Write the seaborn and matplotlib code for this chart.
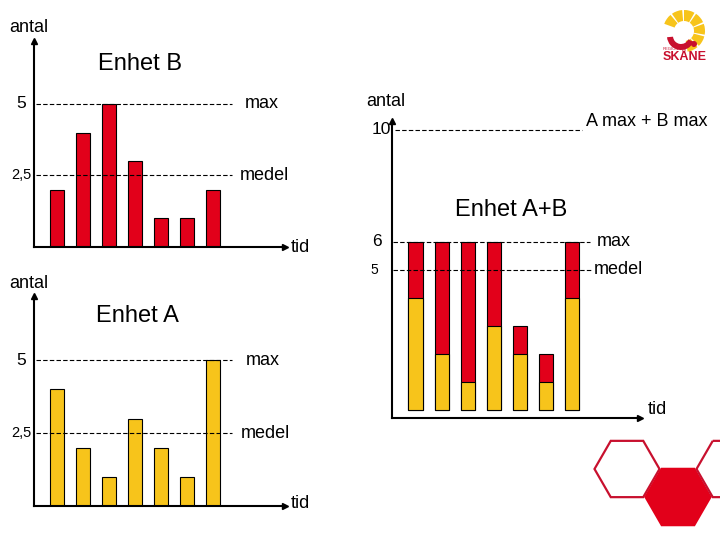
import numpy as np
import pandas as pd
import matplotlib
matplotlib.use('Agg')
import matplotlib.pyplot as plt
from matplotlib.patches import RegularPolygon, Wedge, Circle
import seaborn as sns

# data
tider = ['1', '2', '3', '4', '5', '6', '7']
enhet_a = [4, 2, 1, 3, 2, 1, 5]
enhet_b = [2, 4, 5, 3, 1, 1, 2]
# the combined chart on the slide shows 4 for the last A bar
summa_a = [4, 2, 1, 3, 2, 1, 4]
summa_b = [2, 4, 5, 3, 1, 1, 2]

max_enhet = 5
medel_enhet = 2.5
max_summa = 6
medel_summa = 5
max_plus = 10

RED = '#e2001a'
YELLOW = '#f7c41b'
DARKRED = '#c8102e'
W, H = 720, 540

sns.set_style('white')
plt.rcParams['font.family'] = ['Liberation Sans', 'DejaVu Sans']
plt.rcParams['text.color'] = 'black'


def px_rect(x0, y0, x1, y1):
    return [x0 / W, 1 - y1 / H, (x1 - x0) / W, (y1 - y0) / H]


def ftext(x, y, s, size=13, **kw):
    fig.text(x / W, 1 - y / H, s, fontsize=size, va='center', **kw)


def setup(ax, xlim, ylim):
    ax.set_xlim(xlim)
    ax.set_ylim(ylim)
    ax.set_xticks([])
    ax.set_yticks([])
    ax.set_xlabel('')
    ax.set_ylabel('')
    ax.patch.set_alpha(0)
    for s in ['top', 'right']:
        ax.spines[s].set_visible(False)
    for s in ['left', 'bottom']:
        ax.spines[s].set_color('black')
        ax.spines[s].set_linewidth(1.5)
    ax.plot(1, 0, '>k', transform=ax.transAxes, clip_on=False, markersize=5)
    ax.plot(0, 1, '^k', transform=ax.transAxes, clip_on=False, markersize=5)


def ref_line(ax, y, xmax, label, lx):
    ax.axhline(y, xmin=0.006, xmax=xmax, color='black', lw=0.8, ls=(0, (4, 2)))
    ax.text(lx, y, label, transform=ax.get_yaxis_transform(), fontsize=13,
            va='center', ha='left')


fig = plt.figure(figsize=(7.2, 5.4), dpi=100)

# decorations: logo and hexagons
deco = fig.add_axes([0, 0, 1, 1])
deco.set_xlim(0, W)
deco.set_ylim(0, H)
deco.axis('off')
for t1, t2 in [(130, 160), (95, 125), (60, 90), (25, 55), (-10, 20), (-45, -15), (-80, -50)]:
    deco.add_patch(Wedge((684, H - 31), 21, t1, t2, width=11, color=YELLOW, lw=0))
deco.add_patch(Wedge((681, H - 36), 14, 185, 335, width=6, color=DARKRED, lw=0))
deco.add_patch(Circle((694, H - 44), 3, color=DARKRED, lw=0))
ftext(685, 57, 'SKÅNE', size=9, color=DARKRED, fontweight='bold', ha='center')
ftext(663, 49, 'REGION', size=3, color=DARKRED, ha='left')
for cx, cy, filled in [(627, 469, False), (678, 497, True), (729, 469, False)]:
    deco.add_patch(RegularPolygon((cx, H - cy), 6, radius=32.5, orientation=np.pi / 6,
                                  facecolor=RED if filled else 'none',
                                  edgecolor=RED if filled else DARKRED, lw=1.6))

# Enhet B
ax_b = fig.add_axes(px_rect(34, 41, 285, 247))
df_b = pd.DataFrame({'tid': tider, 'antal': enhet_b})
sns.barplot(data=df_b, x='tid', y='antal', color=RED, saturation=1, width=0.54,
            edgecolor='black', linewidth=0.8, ax=ax_b)
setup(ax_b, (-0.885, 8.77), (0, 7.2))
ref_line(ax_b, max_enhet, 0.79, 'max', 0.84)
ref_line(ax_b, medel_enhet, 0.79, 'medel', 0.82)
ax_b.text(-0.03, max_enhet, '5', transform=ax_b.get_yaxis_transform(), fontsize=12.5, ha='right', va='center')
ax_b.text(-0.01, medel_enhet, '2,5', transform=ax_b.get_yaxis_transform(), fontsize=10.5, ha='right', va='center')
ftext(29, 28, 'antal', ha='center')
ftext(140, 64, 'Enhet B', size=17, ha='center')
ftext(300, 247, 'tid', ha='center')

# Enhet A
ax_a = fig.add_axes(px_rect(34, 296, 285, 506))
df_a = pd.DataFrame({'tid': tider, 'antal': enhet_a})
sns.barplot(data=df_a, x='tid', y='antal', color=YELLOW, saturation=1, width=0.54,
            edgecolor='black', linewidth=0.8, ax=ax_a)
setup(ax_a, (-0.885, 8.77), (0, 7.2))
ref_line(ax_a, max_enhet, 0.79, 'max', 0.845)
ref_line(ax_a, medel_enhet, 0.79, 'medel', 0.825)
ax_a.text(-0.03, max_enhet, '5', transform=ax_a.get_yaxis_transform(), fontsize=12.5, ha='right', va='center')
ax_a.text(-0.01, medel_enhet, '2,5', transform=ax_a.get_yaxis_transform(), fontsize=10.5, ha='right', va='center')
ftext(29, 284, 'antal', ha='center')
ftext(137, 316, 'Enhet A', size=17, ha='center')
ftext(300, 503, 'tid', ha='center')

# Enhet A+B
ax_ab = fig.add_axes(px_rect(392, 121, 640, 418))
df_ab = pd.DataFrame({'tid': tider, 'a': summa_a, 'summa': np.add(summa_a, summa_b)})
sns.barplot(data=df_ab, x='tid', y='summa', color=RED, saturation=1, width=0.54,
            edgecolor='black', linewidth=0.8, ax=ax_ab)
sns.barplot(data=df_ab, x='tid', y='a', color=YELLOW, saturation=1, width=0.54,
            edgecolor='black', linewidth=0.8, ax=ax_ab)
setup(ax_ab, (-0.904, 8.63), (-0.286, 10.32))
ax_ab.axhline(max_plus, xmin=0.012, xmax=0.766, color='black', lw=0.8, ls=(0, (4, 2)))
ref_line(ax_ab, max_summa, 0.798, 'max', 0.827)
ref_line(ax_ab, medel_summa, 0.806, 'medel', 0.815)
yt = ax_ab.get_yaxis_transform()
ax_ab.text(-0.006, max_plus, '10', transform=yt, fontsize=12.5, ha='right', va='center')
ax_ab.text(-0.04, max_summa, '6', transform=yt, fontsize=12.5, ha='right', va='center')
ax_ab.text(-0.056, medel_summa, '5', transform=yt, fontsize=10, ha='right', va='center')
ftext(386, 102, 'antal', ha='center')
ftext(647, 121, 'A max + B max', ha='center')
ftext(511, 210, 'Enhet A+B', size=17, ha='center')
ftext(657, 409, 'tid', ha='center')

fig.savefig('out.png', dpi=100)
